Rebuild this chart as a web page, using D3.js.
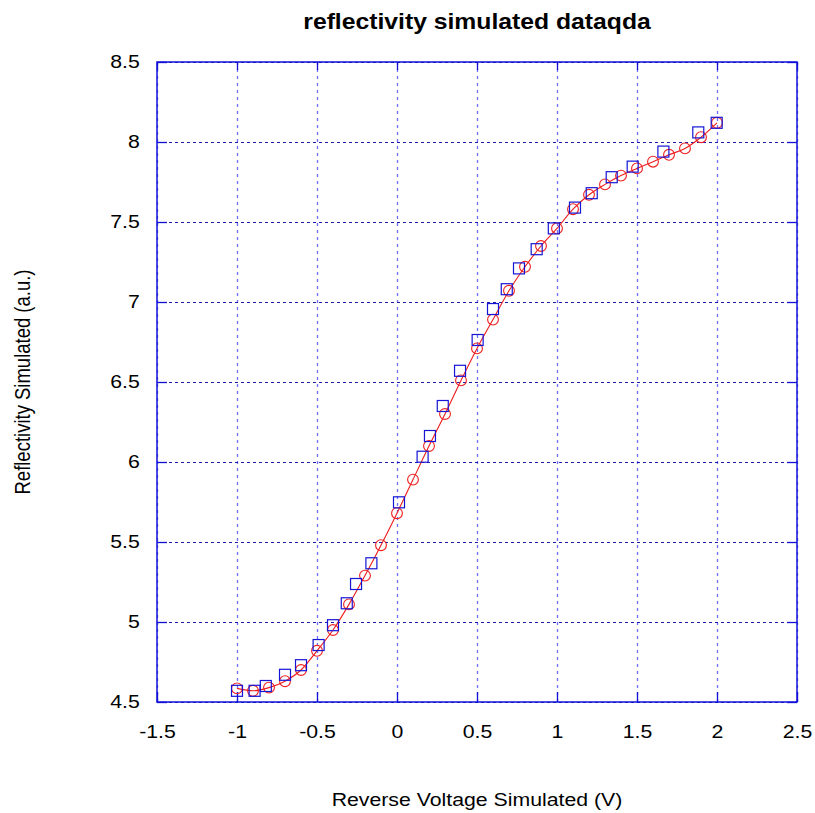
<!DOCTYPE html>
<html>
<head>
<meta charset="utf-8">
<script src="https://cdn.jsdelivr.net/npm/d3@7"></script>
<style>
  body { margin: 0; background: #fff; }
  text { font-family: "Liberation Sans", Arial, sans-serif; }
</style>
</head>
<body>
<div id="chart"></div>
<script>
// circles + red line (model)
const modelX = [-1, -0.9, -0.8, -0.7, -0.6, -0.5, -0.4, -0.3, -0.2, -0.1, 0, 0.1, 0.2, 0.3, 0.4, 0.5,
  0.6, 0.7, 0.8, 0.9, 1, 1.1, 1.2, 1.3, 1.4, 1.5, 1.6, 1.7, 1.8, 1.9, 2];
const modelY = [4.585, 4.57, 4.59, 4.63, 4.70, 4.82, 4.95, 5.11, 5.29, 5.48, 5.68, 5.89, 6.10, 6.30, 6.51, 6.71,
  6.89, 7.07, 7.22, 7.35, 7.46, 7.58, 7.67, 7.735, 7.79, 7.835, 7.877, 7.92, 7.96, 8.03, 8.12];

// squares (measured)
const measX = [-1, -0.89, -0.82, -0.70, -0.60, -0.49, -0.40, -0.314, -0.256, -0.16, 0.0125, 0.16, 0.206, 0.286,
  0.394, 0.504, 0.60, 0.686, 0.7625, 0.873, 0.98, 1.1125, 1.217, 1.342, 1.473, 1.665, 1.883, 1.998];
const measY = [4.57, 4.57, 4.60, 4.67, 4.73, 4.856, 4.98, 5.117, 5.2375, 5.367, 5.748, 6.033, 6.1625, 6.35,
  6.57, 6.7625, 6.956, 7.08, 7.21, 7.33, 7.46, 7.59, 7.68, 7.78, 7.846, 7.94, 8.06, 8.12];

const xTicks = [-1.5, -1, -0.5, 0, 0.5, 1, 1.5, 2, 2.5];
const yTicks = [4.5, 5, 5.5, 6, 6.5, 7, 7.5, 8, 8.5];

let width = 815,
    height = 813,
    margin = ({ top: 62, right: 18, bottom: 111, left: 157 });

const stretch = 1.15; // text in the reference is a bit wider than Arial

const svg = d3.select("#chart")
  .append("svg")
  .attr("width", width)
  .attr("height", height);

let x = d3.scaleLinear()
  .domain([-1.5, 2.5])
  .range([margin.left, width - margin.right]);

let y = d3.scaleLinear()
  .domain([4.5, 8.5])
  .range([height - margin.bottom, margin.top]);

const plotW = width - margin.left - margin.right,
      plotH = height - margin.top - margin.bottom;

// vertical grid
svg.append("g")
  .attr("class", "grid-x")
  .attr("transform", `translate(0,${height - margin.bottom})`)
  .call(d3.axisBottom(x).tickValues(xTicks).tickSize(-plotH).tickFormat(""))
  .call(g => g.select(".domain").remove())
  .call(g => g.selectAll("line")
    .attr("stroke", "#6f6ff5")
    .attr("stroke-width", 1.3)
    .attr("stroke-dasharray", "3,4"));

// horizontal grid
svg.append("g")
  .attr("class", "grid-y")
  .attr("transform", `translate(${margin.left},0)`)
  .call(d3.axisLeft(y).tickValues(yTicks).tickSize(-plotW).tickFormat(""))
  .call(g => g.select(".domain").remove())
  .call(g => g.selectAll("line")
    .attr("stroke", "#1c1ca8")
    .attr("stroke-width", 1)
    .attr("stroke-dasharray", "3,3"));

// frame
svg.append("rect")
  .attr("x", margin.left)
  .attr("y", margin.top)
  .attr("width", plotW)
  .attr("height", plotH)
  .attr("fill", "none")
  .attr("stroke", "#1010d8")
  .attr("stroke-width", 1.5);

// inward ticks on all four sides, labels on left and bottom
const tickStyle = g => {
  g.select(".domain").remove();
  g.selectAll("line").attr("stroke", "#1010d8").attr("stroke-width", 1.3);
  g.selectAll("text")
    .attr("fill", "#000")
    .attr("transform", `scale(${stretch},1)`)
    .style("font-size", "18.5px");
};

svg.append("g")
  .attr("class", "x-axis")
  .attr("transform", `translate(0,${height - margin.bottom})`)
  .call(d3.axisBottom(x).tickValues(xTicks).tickSize(-10).tickPadding(23).tickFormat(d => d))
  .call(tickStyle);

svg.append("g")
  .attr("transform", `translate(0,${margin.top})`)
  .call(d3.axisTop(x).tickValues(xTicks).tickSize(-8).tickFormat(""))
  .call(tickStyle);

svg.append("g")
  .attr("class", "y-axis")
  .attr("transform", `translate(${margin.left},0)`)
  .call(d3.axisLeft(y).tickValues(yTicks).tickSize(-10).tickPadding(15).tickFormat(d => d))
  .call(tickStyle);

svg.append("g")
  .attr("transform", `translate(${width - margin.right},0)`)
  .call(d3.axisRight(y).tickValues(yTicks).tickSize(-10).tickFormat(""))
  .call(tickStyle);

const model = modelX.map((v, i) => ({ x: v, y: modelY[i] }));
const meas = measX.map((v, i) => ({ x: v, y: measY[i] }));

// red line through model points
svg.append("path")
  .datum(model)
  .attr("fill", "none")
  .attr("stroke", "#ee1c1c")
  .attr("stroke-width", 1.1)
  .attr("d", d3.line().x(d => x(d.x)).y(d => y(d.y)).curve(d3.curveMonotoneX));

svg.append("g")
  .selectAll("circle")
  .data(model)
  .join("circle")
  .attr("cx", d => x(d.x))
  .attr("cy", d => y(d.y))
  .attr("r", 5.4)
  .attr("fill", "none")
  .attr("stroke", "#ee2020")
  .attr("stroke-width", 1.1);

svg.append("g")
  .selectAll("rect")
  .data(meas)
  .join("rect")
  .attr("x", d => x(d.x) - 5.5)
  .attr("y", d => y(d.y) - 5.5)
  .attr("width", 11)
  .attr("height", 11)
  .attr("fill", "none")
  .attr("stroke", "#1515d5")
  .attr("stroke-width", 1.2);

// title + axis labels
const midX = (margin.left + width - margin.right) / 2;

svg.append("text")
  .attr("transform", `translate(${midX},29) scale(${stretch},1)`)
  .attr("text-anchor", "middle")
  .style("font-size", "21.5px")
  .style("font-weight", "bold")
  .text("reflectivity simulated dataqda");

svg.append("text")
  .attr("transform", `translate(${midX},806) scale(${stretch},1)`)
  .attr("text-anchor", "middle")
  .style("font-size", "18.5px")
  .text("Reverse Voltage Simulated (V)");

svg.append("text")
  .attr("transform", `translate(30,${(margin.top + height - margin.bottom) / 2}) scale(${stretch},1) rotate(-90)`)
  .attr("text-anchor", "middle")
  .style("font-size", "18.5px")
  .text("Reflectivity Simulated (a.u.)");
</script>
</body>
</html>
